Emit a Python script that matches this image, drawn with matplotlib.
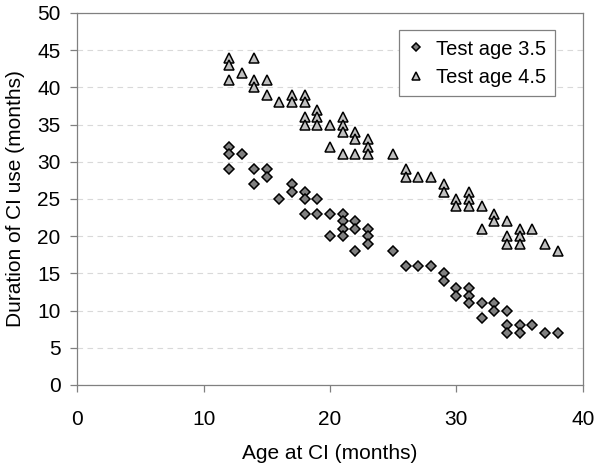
import numpy as np
import matplotlib.pyplot as plt

plt.rcParams['font.family'] = ['Liberation Sans', 'DejaVu Sans']

# Test age 3.5 (diamonds)
age_35 = [12, 12, 12, 13, 14, 14, 15, 15, 16, 17, 17, 18, 18, 18, 19, 19, 20, 20,
          21, 21, 21, 21, 22, 22, 22, 23, 23, 23, 25, 26, 27, 28, 29, 29, 30, 30,
          31, 31, 31, 32, 32, 33, 33, 34, 34, 34, 35, 35, 36, 37, 38]
dur_35 = [32, 31, 29, 31, 29, 27, 29, 28, 25, 27, 26, 26, 25, 23, 25, 23, 23, 20,
          23, 22, 21, 20, 22, 21, 18, 21, 20, 19, 18, 16, 16, 16, 15, 14, 13, 12,
          13, 12, 11, 11, 9, 11, 10, 10, 8, 7, 8, 7, 8, 7, 7]

# Test age 4.5 (triangles)
age_45 = [12, 12, 12, 13, 14, 14, 14, 15, 15, 16, 17, 17, 18, 18, 18, 18, 19, 19, 19,
          20, 20, 21, 21, 21, 21, 22, 22, 22, 23, 23, 23, 25, 26, 26, 27, 28, 29, 29,
          30, 30, 31, 31, 31, 32, 32, 33, 33, 34, 34, 34, 35, 35, 35, 36, 37, 38]
dur_45 = [44, 43, 41, 42, 44, 41, 40, 41, 39, 38, 39, 38, 39, 38, 36, 35, 37, 36, 35,
          35, 32, 36, 35, 34, 31, 34, 33, 31, 33, 32, 31, 31, 29, 28, 28, 28, 27, 26,
          25, 24, 26, 25, 24, 24, 21, 23, 22, 22, 20, 19, 21, 20, 19, 21, 19, 18]

fig = plt.figure(figsize=(6.0, 4.71), dpi=100)
ax = fig.add_axes([0.1287, 0.1826, 0.8426, 0.7898])

ax.plot(age_35, dur_35, linestyle='none', marker='D', ms=5.6, mfc='#808080',
        mec='black', mew=1.1, label='Test age 3.5', zorder=3)
ax.plot(age_45, dur_45, linestyle='none', marker='^', ms=7.5, mfc='#c0c0c0',
        mec='black', mew=1.1, label='Test age 4.5', zorder=3)

ax.set_xlim(0, 40)
ax.set_ylim(0, 50)
ax.set_xticks(np.arange(0, 41, 10))
ax.set_yticks(np.arange(0, 51, 5))
ax.yaxis.grid(True, linestyle=(0, (5, 4)), color='#d9d9d9', lw=0.8)
ax.set_axisbelow(True)

for s in ax.spines.values():
    s.set_color('#808080')
    s.set_linewidth(0.9)
ax.tick_params(direction='out', length=5, width=0.9, color='#808080',
               labelsize=15)
ax.tick_params(axis='y', pad=7)
ax.tick_params(axis='x', pad=13)

ax.set_xlabel('Age at CI (months)', fontsize=15, labelpad=11)
ax.set_ylabel('Duration of CI use (months)', fontsize=15, labelpad=9)

leg = ax.legend(loc='upper right', bbox_to_anchor=(0.945, 0.953), borderaxespad=0,
                fontsize=14.5, fancybox=False, edgecolor='#808080', framealpha=1,
                markerscale=0.7, handlelength=0.8, handletextpad=0.6,
                borderpad=0.45, labelspacing=0.45)
leg.get_frame().set_linewidth(0.9)

fig.savefig('out.png', dpi=100)
